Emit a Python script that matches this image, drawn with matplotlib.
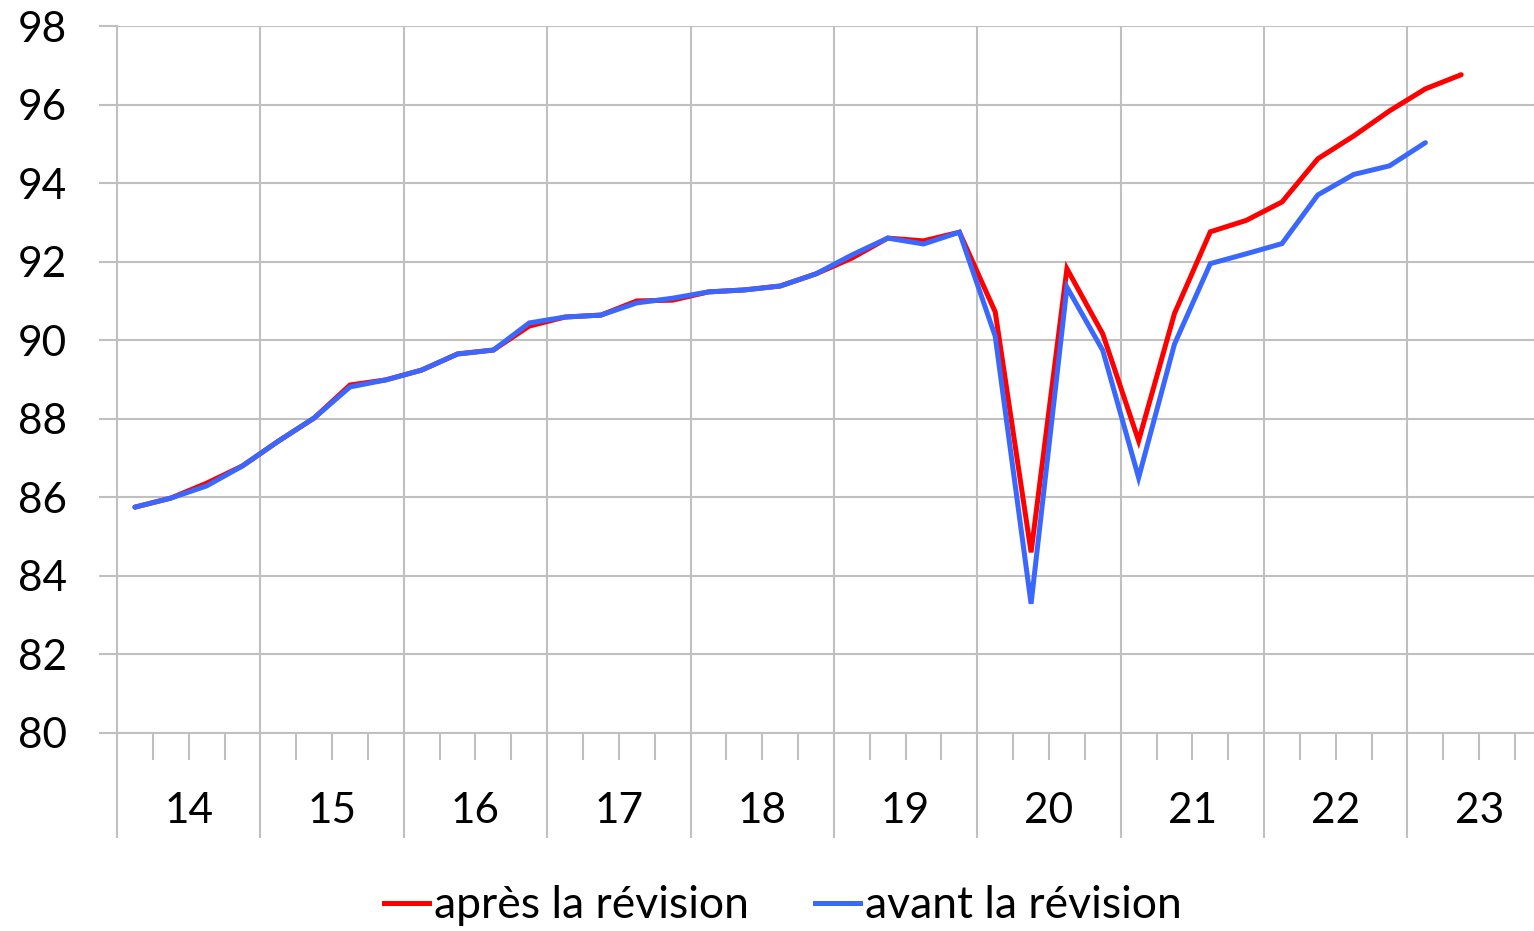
import numpy as np
import matplotlib.pyplot as plt
from matplotlib.lines import Line2D

# quarterly index, 2014Q1 onwards
apres = [85.75, 85.98, 86.36, 86.80, 87.43, 88.02, 88.86, 88.99, 89.24, 89.65,
         89.75, 90.36, 90.59, 90.64, 91.00, 91.02, 91.23, 91.28, 91.38, 91.69,
         92.09, 92.60, 92.53, 92.75, 90.72, 84.60, 91.82, 90.16, 87.44, 90.68,
         92.76, 93.05, 93.52, 94.62, 95.20, 95.84, 96.40, 96.76]
avant = [85.75, 85.98, 86.29, 86.80, 87.43, 88.02, 88.81, 88.99, 89.24, 89.65,
         89.75, 90.44, 90.59, 90.64, 90.95, 91.07, 91.23, 91.28, 91.38, 91.69,
         92.17, 92.60, 92.45, 92.75, 90.10, 83.29, 91.35, 89.74, 86.50, 89.90,
         91.95, 92.20, 92.46, 93.70, 94.22, 94.44, 95.03]
years = ['14', '15', '16', '17', '18', '19', '20', '21', '22', '23']

plt.rcParams['font.family'] = ['Lato', 'DejaVu Sans']
grey = '#C0C0C0'
red = '#FF0000'
blue = '#3A68FF'
fs = 30.5

fig = plt.figure(figsize=(15.34, 9.31), dpi=100)
ax = fig.add_axes([117 / 1534, 198 / 931, 1417 / 1534, 707 / 931])

ax.plot(np.arange(len(apres)), apres, color=red, lw=3.6, solid_capstyle='round',
        solid_joinstyle='miter', zorder=3)
ax.plot(np.arange(len(avant)), avant, color=blue, lw=3.6, solid_capstyle='round',
        solid_joinstyle='miter', zorder=4)

# year boundaries as major ticks/grid, quarters as minor ticks
ax.set_xticks(np.arange(-0.5, 40, 4))
ax.set_xticks(np.arange(-0.5, 40, 1), minor=True)
ax.set_xticklabels([])
ax.set_yticks(np.arange(80, 99, 2))
ax.set_ylim(80, 98)
ax.set_xlim(-0.5, 39.03)

ax.tick_params(axis='x', which='major', length=105 * 0.72, width=1.5, color=grey)
ax.tick_params(axis='x', which='minor', length=27 * 0.72, width=1.5, color=grey)
ax.tick_params(axis='y', length=18 * 0.72, width=1.5, color=grey, pad=23,
               labelsize=fs)

ax.grid(True, which='major', color=grey, lw=1.5)
for s in ['top', 'right']:
    ax.spines[s].set_visible(False)
for s in ['left', 'bottom']:
    ax.spines[s].set_color(grey)
    ax.spines[s].set_linewidth(1.5)

trans = ax.get_xaxis_transform()
for k, y in enumerate(years):
    ax.text(1.5 + 4 * k, -0.11, y, transform=trans, ha='center', va='center',
            fontsize=fs, clip_on=False)

handles = [Line2D([], [], color=red, lw=3.6),
           Line2D([], [], color=blue, lw=3.6)]
fig.legend(handles, ['après la révision', 'avant la révision'], loc='center',
           bbox_to_anchor=(783 / 1534, 1 - 906 / 931), ncol=2, frameon=False,
           prop={'size': 32}, handlelength=1.0, handletextpad=0.12,
           columnspacing=1.5)

fig.savefig('out.png', dpi=100)
